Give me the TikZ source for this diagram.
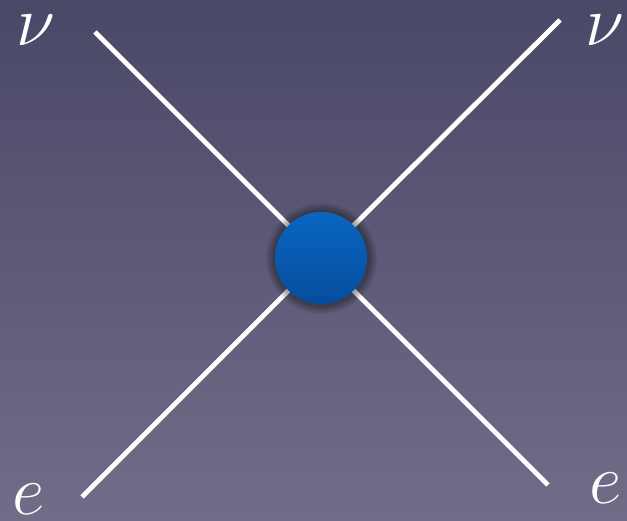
\documentclass[tikz,border=0pt]{standalone}
\usepackage{tikz}
\usetikzlibrary{positioning,backgrounds,shadows}
\definecolor{bgtop}{HTML}{4A4867}
\definecolor{bgbottom}{HTML}{6F6D87}
\definecolor{blobtop}{HTML}{0A66C0}
\definecolor{blobbottom}{HTML}{064C9E}

\tikzset{
  leg/.style={white,line width=4.8pt},
  plabel/.style={white,font=\Huge,scale=2.85,inner sep=0pt},
  blob/.style={circle,minimum size=92pt,inner sep=0pt,
    top color=blobtop,bottom color=blobbottom,
    circular glow={fill=black,opacity=0.35,shadow scale=1.22}}
}

\begin{document}
\begin{tikzpicture}[x=1pt,y=1pt]
  % blob in the middle
  \node[blob] (vtx) at (321,263) {};
  % free ends of the legs
  \coordinate (nuin)  at (95,489);
  \coordinate (nuout) at (560,501);
  \coordinate (ein)   at (82,24);
  \coordinate (eout)  at (548,36);
  \node[plabel] (lnuin)  at (36,491)  {$\nu$};
  \node[plabel] (lnuout) at (605,491) {$\nu$};
  \node[plabel] (lein)   at (29,22)   {$e$};
  \node[plabel] (leout)  at (606,33)  {$e$};
  \begin{scope}[on background layer]
    \fill[top color=bgtop,bottom color=bgbottom] (0,0) rectangle (627,521);
    \useasboundingbox (0,0) rectangle (627,521);
    \draw[leg] (nuin) -- (vtx.center);
    \draw[leg] (nuout) -- (vtx.center);
    \draw[leg] (ein) -- (vtx.center);
    \draw[leg] (eout) -- (vtx.center);
  \end{scope}
\end{tikzpicture}
\end{document}
